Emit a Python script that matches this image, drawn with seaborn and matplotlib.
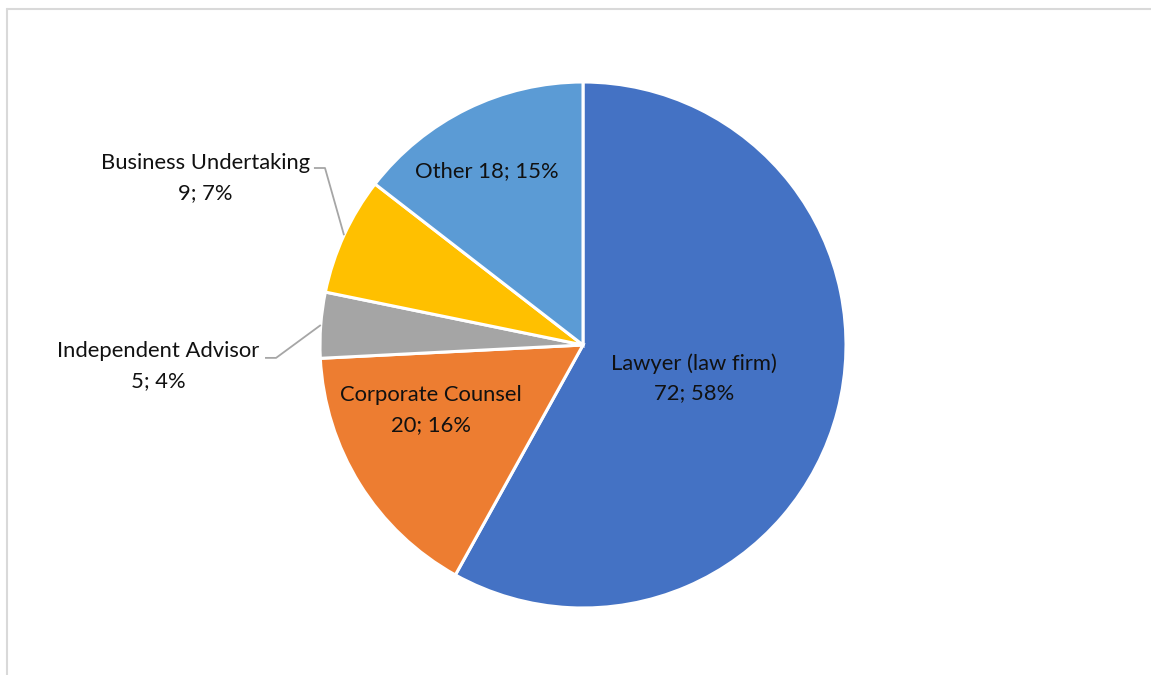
import numpy as np
import matplotlib
matplotlib.use("Agg")
import matplotlib.pyplot as plt
from matplotlib.lines import Line2D
import seaborn as sns

# Survey respondents by professional role
categories = ["Lawyer (law firm)", "Corporate Counsel", "Independent Advisor",
              "Business Undertaking", "Other"]
counts = [72, 20, 5, 9, 18]
percent_labels = ["58%", "16%", "4%", "7%", "15%"]
colors = ["#4472C4", "#ED7D31", "#A5A5A5", "#FFC000", "#5B9BD5"]

sns.set_theme(style="white")
plt.rcParams["font.family"] = ["Lato", "DejaVu Sans"]

W, H = 1151, 675
fig = plt.figure(figsize=(W / 100, H / 100), dpi=100)
fig.patch.set_facecolor("white")

# chart frame (top and left borders visible)
frame_col = "#D9D9D9"
fig.add_artist(Line2D([7 / W, 1.0], [1 - 9 / H, 1 - 9 / H], transform=fig.transFigure,
                      color=frame_col, lw=1.5))
fig.add_artist(Line2D([7 / W, 7 / W], [0, 1 - 9 / H], transform=fig.transFigure,
                      color=frame_col, lw=1.5))

cx, cy, R = 583, 345, 263
ax = fig.add_axes([(cx - R) / W, (H - cy - R) / H, 2 * R / W, 2 * R / H])

wedges, _ = ax.pie(counts, colors=colors, startangle=90, counterclock=False,
                   radius=1.0,
                   wedgeprops=dict(edgecolor="white", linewidth=2.2))
ax.set_xlim(-1, 1)
ax.set_ylim(-1, 1)
ax.set_aspect("equal")
ax.axis("off")

text_col = "#111111"
fs = 15.8
ls = 1.62

def mid_angle(w):
    return np.deg2rad((w.theta1 + w.theta2) / 2)

def label_text(i, sep="\n"):
    return f"{categories[i]}{sep}{counts[i]}; {percent_labels[i]}"

# labels inside wedges: (index, radius factor, angle offset in degrees)
inside = [(0, 0.44, -2.2), (1, 0.63, -8.7), (4, 0.755, 2.9)]
for i, rf, dang in inside:
    a = mid_angle(wedges[i]) + np.deg2rad(dang)
    sep = " " if i == 4 else "\n"
    ax.text(rf * np.cos(a), rf * np.sin(a), label_text(i, sep), ha="center", va="center",
            fontsize=fs, color=text_col, linespacing=ls)

# labels outside with leader lines: (index, elbow point, end point, text center)
outside = [
    (3, (-0.981, 0.673), (-1.023, 0.673), (-1.437, 0.635)),
    (2, (-1.167, -0.049), (-1.209, -0.049), (-1.616, -0.080)),
]
for i, elbow, end, tc in outside:
    a = mid_angle(wedges[i])
    edge = (np.cos(a), np.sin(a))
    ax.plot([edge[0], elbow[0], end[0]], [edge[1], elbow[1], end[1]],
            color="#A6A6A6", lw=1.3, clip_on=False, solid_capstyle="butt")
    ax.text(tc[0], tc[1], label_text(i), ha="center", va="center", fontsize=fs,
            color=text_col, linespacing=ls, multialignment="center")

fig.savefig("out.png", dpi=100, facecolor="white")
